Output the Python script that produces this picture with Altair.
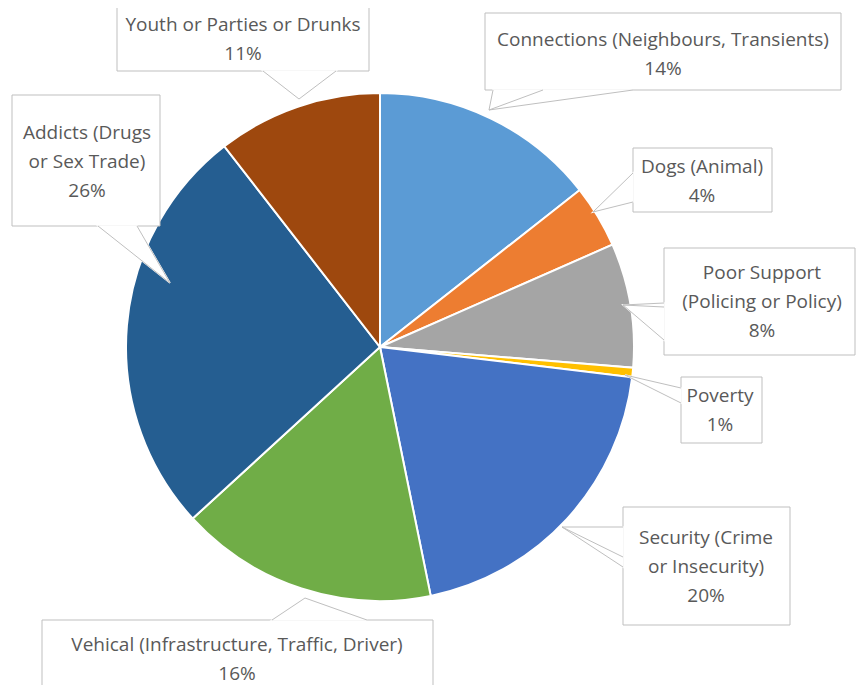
import altair as alt
import pandas as pd

# ---------------- data ----------------
categories = [
    "Connections (Neighbours, Transients)",
    "Dogs (Animal)",
    "Poor Support (Policing or Policy)",
    "Poverty",
    "Security (Crime or Insecurity)",
    "Vehical (Infrastructure, Traffic, Driver)",
    "Addicts (Drugs or Sex Trade)",
    "Youth or Parties or Drunks",
]
shares = [14.4, 4.0, 7.9, 0.6, 19.9, 16.4, 26.3, 10.5]
pct_labels = ["14%", "4%", "8%", "1%", "20%", "16%", "26%", "11%"]
label_lines = [
    ["Connections (Neighbours, Transients)"],
    ["Dogs (Animal)"],
    ["Poor Support", "(Policing or Policy)"],
    ["Poverty"],
    ["Security (Crime", "or Insecurity)"],
    ["Vehical (Infrastructure, Traffic, Driver)"],
    ["Addicts (Drugs", "or Sex Trade)"],
    ["Youth or Parties or Drunks"],
]
colors = ["#5B9BD5", "#ED7D31", "#A5A5A5", "#FFC000",
          "#4472C4", "#70AD47", "#255E91", "#9E480E"]

# ---------------- layout (page pixels) ----------------
OFF = 8
PIE_CX, PIE_CY, PIE_R = 380, 347, 254
boxes = [(485, 13, 841, 90), (633, 148, 772, 212), (664, 248, 855, 355),
         (681, 377, 762, 443), (623, 507, 790, 625), (42, 620, 433, 712),
         (12, 95, 160, 226), (117, 7, 369, 71)]
text_cx = [663, 702, 762, 720, 706, 237, 87, 243]
text_y0 = [40, 167, 273, 396, 538, 645, 133, 25]
LINE_GAP = 29
wedge_a1 = [(493, 90), (633, 173), (664, 303), (681, 388), (623, 527), (272, 620), (98, 226), (263, 71)]
wedge_tip = [(489, 110), (593, 212), (623, 305), (625, 375), (562, 527), (305, 598), (170, 283), (299, 99)]
wedge_a2 = [(633, 90), (633, 202), (664, 340), (681, 403), (623, 567), (367, 620), (137, 226), (336, 71)]
leaders = {0: (543, 90), 2: (664, 307), 4: (623, 557)}

FONT = "Open Sans"
FONT_SIZE = 19
TEXT_COLOR = "#595959"
BORDER = "#BFBFBF"

# ---------------- tables ----------------
pie_df = pd.DataFrame({"cat": categories, "share": shares, "idx": list(range(len(categories)))})

box_df = pd.DataFrame({
    "cat": categories,
    "x1": [b[0] - OFF for b in boxes], "y1": [b[1] - OFF for b in boxes],
    "x2": [b[2] - OFF for b in boxes], "y2": [b[3] - OFF for b in boxes],
})

poly_rows, line_rows, text_rows = [], [], []
for i, c in enumerate(categories):
    pts = [wedge_a1[i], wedge_tip[i], wedge_a2[i]]
    for k, (px, py) in enumerate(pts):
        poly_rows.append({"cat": c, "k": k, "px": px - OFF, "py": py - OFF})
        line_rows.append({"seg": f"{i}w", "k": k, "px": px - OFF, "py": py - OFF})
    if i in leaders:
        for k, (px, py) in enumerate([wedge_tip[i], leaders[i]]):
            line_rows.append({"seg": f"{i}l", "k": k, "px": px - OFF, "py": py - OFF})
    lines = label_lines[i] + [pct_labels[i]]
    for j, t in enumerate(lines):
        text_rows.append({"t": t, "tx": text_cx[i] - OFF, "ty": text_y0[i] + j * LINE_GAP - OFF})

poly_df = pd.DataFrame(poly_rows)
line_df = pd.DataFrame(line_rows)
text_df = pd.DataFrame(text_rows)

# ---------------- marks ----------------
pie = alt.Chart(pie_df).mark_arc(radius=PIE_R, stroke="white", strokeWidth=2).encode(
    theta=alt.Theta("share:Q", stack=True),
    color=alt.Color("cat:N", scale=alt.Scale(domain=categories, range=colors), legend=None),
    order=alt.Order("idx:Q"),
    x=alt.value(PIE_CX - OFF),
    y=alt.value(PIE_CY - OFF),
)

box_layer = alt.Chart(box_df).mark_rect(fill="white", stroke=BORDER, strokeWidth=1).encode(
    x=alt.X("x1:Q", scale=None, axis=None), x2="x2:Q",
    y=alt.Y("y1:Q", scale=None, axis=None), y2="y2:Q",
)

wedge_fill = alt.Chart(poly_df).mark_line(
    interpolate="linear-closed", fill="white", stroke="white", strokeWidth=1.5
).encode(
    x=alt.X("px:Q", scale=None, axis=None),
    y=alt.Y("py:Q", scale=None, axis=None),
    detail="cat:N",
    order="k:Q",
)

wedge_lines = alt.Chart(line_df).mark_line(stroke=BORDER, strokeWidth=1).encode(
    x=alt.X("px:Q", scale=None, axis=None),
    y=alt.Y("py:Q", scale=None, axis=None),
    detail="seg:N",
    order="k:Q",
)

texts = alt.Chart(text_df).mark_text(
    font=FONT, fontSize=FONT_SIZE, color=TEXT_COLOR, align="center", baseline="middle"
).encode(
    x=alt.X("tx:Q", scale=None, axis=None),
    y=alt.Y("ty:Q", scale=None, axis=None),
    text="t:N",
)

chart = alt.layer(pie, box_layer, wedge_fill, wedge_lines, texts).properties(
    width=848, height=677, padding=0, autosize=alt.AutoSizeParams(type="none")
).configure_view(stroke=None)

chart.save("out.html", embed_options={"renderer": "svg", "actions": False})
